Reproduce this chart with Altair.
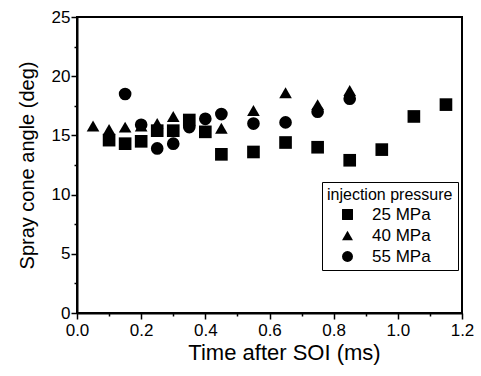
import altair as alt
import pandas as pd

series_names = ["25 MPa", "40 MPa", "55 MPa"]

t25 = [0.10, 0.15, 0.20, 0.25, 0.30, 0.35, 0.40, 0.45, 0.55, 0.65, 0.75, 0.85, 0.95, 1.05, 1.15]
v25 = [14.6, 14.3, 14.5, 15.4, 15.4, 16.3, 15.3, 13.4, 13.6, 14.4, 14.0, 12.9, 13.8, 16.6, 17.6]

t40 = [0.05, 0.10, 0.15, 0.20, 0.25, 0.30, 0.45, 0.55, 0.65, 0.75, 0.85]
v40 = [15.8, 15.5, 15.7, 15.8, 16.0, 16.6, 15.6, 17.1, 18.6, 17.6, 18.8]

t55 = [0.15, 0.20, 0.25, 0.30, 0.35, 0.40, 0.45, 0.55, 0.65, 0.75, 0.85]
v55 = [18.5, 15.9, 13.9, 14.3, 15.7, 16.4, 16.8, 16.0, 16.1, 17.0, 18.1]

x_ticks = [round(i * 0.1, 1) for i in range(13)]
y_ticks = [i * 2.5 for i in range(11)]

rows = []
for name, ts, vs in zip(series_names, [t25, t40, t55], [v25, v40, v55]):
    for t, v in zip(ts, vs):
        rows.append({"t": t, "v": v, "p": name})
df = pd.DataFrame(rows)

FONT = "Liberation Sans"

chart = alt.Chart(df).mark_point(filled=True, size=160, opacity=1, color="black").encode(
    x=alt.X("t:Q",
            scale=alt.Scale(domain=[0, 1.2], nice=False, zero=False),
            axis=alt.Axis(
                values=x_ticks,
                title="Time after SOI (ms)",
                titleFontSize=22, titleFont=FONT, titleFontWeight="normal", titleColor="black",
                titlePadding=4, titleX=207,
                labelExpr="round(datum.value*10) % 2 === 0 ? format(datum.value, '.1f') : ''",
                labelFontSize=17, labelFont=FONT, labelColor="black", labelPadding=3,
                labelFlush=False, labelOverlap=False,
                tickSize={"condition": {"test": "round(datum.value*10) % 2 === 0", "value": 6}, "value": 3},
                tickColor="black", tickWidth=1.5,
                domainColor="black", domainWidth=2,
                grid=False)),
    y=alt.Y("v:Q",
            scale=alt.Scale(domain=[0, 25], nice=False, zero=False),
            axis=alt.Axis(
                values=y_ticks,
                title="Spray cone angle (deg)",
                titleFontSize=20, titleFont=FONT, titleFontWeight="normal", titleColor="black",
                titlePadding=14,
                labelExpr="round(datum.value*2) % 2 === 0 ? format(datum.value, 'd') : ''",
                labelFontSize=17, labelFont=FONT, labelColor="black", labelPadding=1,
                labelFlush=False, labelOverlap=False,
                tickSize={"condition": {"test": "round(datum.value*2) % 2 === 0", "value": 6}, "value": 3},
                tickColor="black", tickWidth=1.5,
                domainColor="black", domainWidth=2,
                grid=False)),
    shape=alt.Shape("p:N",
                    scale=alt.Scale(domain=series_names, range=["square", "triangle-up", "circle"]),
                    legend=alt.Legend(
                        title="injection pressure",
                        orient="none", legendX=245, legendY=165,
                        titleFont=FONT, titleFontSize=16, titleFontWeight="normal", titleColor="black",
                        titlePadding=3,
                        labelFont=FONT, labelFontSize=17, labelColor="black",
                        symbolSize=120, symbolFillColor="black", symbolStrokeColor="black",
                        symbolOffset=12, labelOffset=16, rowPadding=3,
                        padding=5, strokeColor="black", fillColor="white",
                        cornerRadius=0)),
).properties(
    width=385, height=296,
    padding={"left": 77, "top": 17, "right": 19, "bottom": 63},
    autosize=alt.AutoSizeParams(type="none"),
).configure_view(
    stroke="black", strokeWidth=2
).configure_legend(
    strokeWidth=1
)

chart.save("out.html", embed_options={"renderer": "svg", "actions": False})
